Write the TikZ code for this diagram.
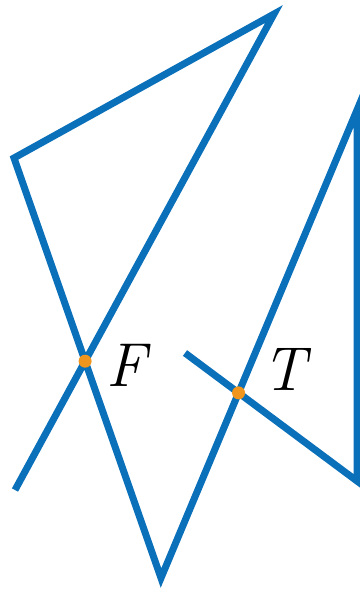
\documentclass[tikz,border=0pt]{standalone}
\usepackage{xcolor}
\definecolor{lineblue}{RGB}{10,112,186}
\definecolor{dotorange}{RGB}{240,150,30}
\begin{document}
\begin{tikzpicture}[x=1pt,y=-1pt,
  seg/.style={draw=lineblue,line width=7pt,line join=miter},
  pt/.style={circle,fill=dotorange,inner sep=0pt,minimum size=13pt},
  lbl/.style={font=\fontsize{62}{62}\selectfont\itshape}]
\useasboundingbox (0,0) rectangle (359,592);
\coordinate (a) at (15,490);
\coordinate (b) at (274,14);
\coordinate (c) at (14,158);
\coordinate (d) at (161,578);
\coordinate (e) at (357,110);
\coordinate (f) at (357,481);
\coordinate (g) at (185,353);
\draw[seg] (a) -- (b) -- (c) -- (d) -- (e) -- (f) -- (g);
\node[pt] (F) at (intersection of a--b and c--d) {};
\node[pt] (T) at (intersection of d--e and f--g) {};
\node[lbl] (Flbl) at (126,365) {F};
\node[lbl] (Tlbl) at (284,369) {T};
\end{tikzpicture}
\end{document}
